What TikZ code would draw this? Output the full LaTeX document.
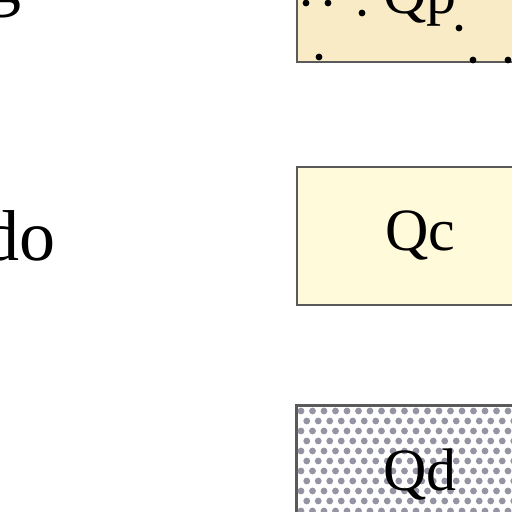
\documentclass[tikz,border=0pt]{standalone}
\usepackage{fontspec}
\setmainfont{Liberation Serif}
\usepackage{tikz}
\usetikzlibrary{positioning}
\definecolor{sandfill}{HTML}{F8EBC6}
\definecolor{colfill}{HTML}{FFFAD9}
\definecolor{dotgray}{HTML}{9494A2}
\definecolor{edgegray}{HTML}{5A5A5A}
\begin{document}
\begin{tikzpicture}[
    x=1pt, y=-1pt,
    unit/.style={draw=edgegray, line width=1.6pt, anchor=north west,
      minimum width=248pt, minimum height=138pt, inner sep=0pt},
    code/.style={font=\fontsize{60}{60}\selectfont, anchor=base, inner sep=0pt},
    side/.style={font=\fontsize{72}{72}\selectfont, anchor=base east, inner sep=0pt},
  ]
    \useasboundingbox (0,0) rectangle (512,512);
    % legend boxes
    \node[unit, fill=sandfill] (qp) at (296,-77) {};
    \node[unit, fill=colfill] (qc) at (296,166) {};
    \node[unit, fill=white] (qd) at (296,405) {};
    % sparse black dots
    \foreach \px/\py in {306/3, 328/3, 362/13, 459/28, 319/57, 473/60, 508/60}
      \fill[black] (\px,\py) circle (3.4pt);
    % dense grey dots
    \begin{scope}
      \clip (qd.north west) rectangle (qd.south east);
      \foreach \r in {0,...,13} {
        \pgfmathsetmacro{\off}{mod(\r,2)*5.75}
        \foreach \c in {0,...,21}
          \fill[dotgray] (301+\c*11.5+\off, 411+\r*10) circle (3.4pt);
      }
    \end{scope}
    \draw[edgegray, line width=1.6pt] (qd.north west) rectangle (qd.south east);
    % labels
    \node[code] (qp label) at (420,13) {Qp};
    \node[code] (qc label) at (420,250) {Qc};
    \node[code] (qd label) at (420,490) {Qd};
    \node[side] (top text) at (22,2) {g};
    \node[side] (mid text) at (56,260) {do};
  \end{tikzpicture}
\end{document}
